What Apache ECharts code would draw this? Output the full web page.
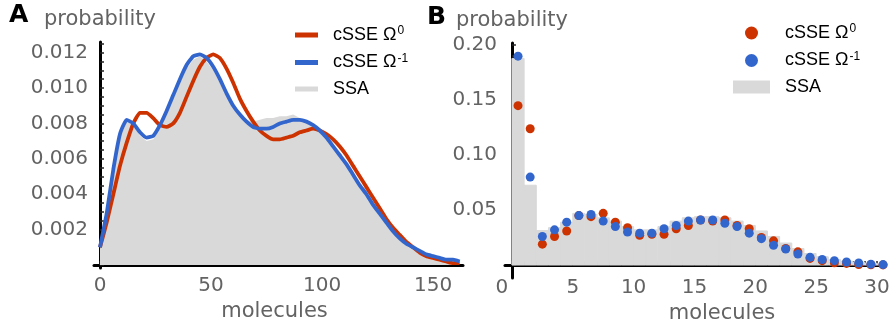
<!DOCTYPE html>
<html>
<head>
<meta charset="utf-8">
<script src="https://cdn.jsdelivr.net/npm/echarts@6/dist/echarts.min.js"></script>
<style>html,body{margin:0;padding:0;background:#fff}#c{width:891px;height:326px}</style>
</head>
<body>
<div id="c"></div>
<script>
// ---------- Panel A data ----------
const xsA = [0,3,6,9,12,15,18,21,24,27,30,33,36,39,42,45,48,51,54,57,60,63,66,69,72,75,78,81,84,87,90,93,96,99,102,105,108,111,114,117,120,123,126,129,132,135,138,141,144,147,150,153,156,159,162];
const redA = [0.0010,0.0024,0.0040,0.0056,0.0069,0.0080,0.0086,0.0086,0.0083,0.0079,0.0078,0.0080,0.0086,0.0095,0.0104,0.0112,0.0117,0.0119,0.0117,0.0111,0.0103,0.0094,0.0087,0.0081,0.0076,0.0073,0.0071,0.0071,0.0072,0.0073,0.0075,0.0076,0.0077,0.0076,0.0074,0.0071,0.0067,0.0062,0.0056,0.0050,0.0044,0.0038,0.0032,0.0026,0.0021,0.0017,0.0013,0.0010,0.0007,0.0005,0.0004,0.0003,0.0002,0.0001,0.0001];
const blueA = [0.0010,0.0029,0.0054,0.0074,0.0082,0.0080,0.0075,0.0072,0.0073,0.0079,0.0087,0.0096,0.0105,0.0113,0.0118,0.0119,0.0117,0.0112,0.0105,0.0097,0.0090,0.0085,0.0081,0.0078,0.0077,0.0077,0.0078,0.0080,0.0081,0.0082,0.0082,0.0081,0.0079,0.0076,0.0072,0.0067,0.0062,0.0057,0.0051,0.0045,0.0040,0.0034,0.0029,0.0024,0.0019,0.0015,0.0012,0.0010,0.0008,0.0006,0.0005,0.0004,0.0003,0.0003,0.0002];
const ssaA = [0.0009,0.0030,0.0054,0.0072,0.0081,0.0079,0.0073,0.0070,0.0071,0.0077,0.0085,0.0094,0.0103,0.0111,0.0116,0.0118,0.0115,0.0110,0.0103,0.0096,0.0090,0.0086,0.0082,0.0081,0.0082,0.0083,0.0083,0.0084,0.0084,0.0085,0.0083,0.0081,0.0078,0.0075,0.0071,0.0066,0.0061,0.0056,0.0050,0.0044,0.0039,0.0033,0.0028,0.0023,0.0019,0.0015,0.0012,0.0009,0.0007,0.0005,0.0004,0.0003,0.0002,0.0002,0.0001];
const xTickLabelsA = [0,50,100,150];
const xTicksA = [0,10,20,30,40,50,60,70,80,90,100,110,120,130,140,150,160];
const yTickLabelsA = [0.002,0.004,0.006,0.008,0.010,0.012];
const yTicksA = [0,0.0005,0.001,0.0015,0.002,0.0025,0.003,0.0035,0.004,0.0045,0.005,0.0055,0.006,0.0065,0.007,0.0075,0.008,0.0085,0.009,0.0095,0.010,0.0105,0.011,0.0115,0.012,0.0125];

// ---------- Panel B data ----------
const xsB = [0.5,1.5,2.5,3.5,4.5,5.5,6.5,7.5,8.5,9.5,10.5,11.5,12.5,13.5,14.5,15.5,16.5,17.5,18.5,19.5,20.5,21.5,22.5,23.5,24.5,25.5,26.5,27.5,28.5,29.5,30.5];
const redB = [0.145,0.124,0.019,0.026,0.031,0.045,0.044,0.047,0.039,0.034,0.027,0.028,0.028,0.033,0.036,0.041,0.040,0.041,0.036,0.033,0.025,0.022,0.015,0.012,0.006,0.004,0.002,0.0015,0.0005,0.0003,0.0001];
const blueB = [0.190,0.080,0.026,0.032,0.039,0.045,0.046,0.040,0.035,0.030,0.029,0.029,0.033,0.036,0.040,0.041,0.041,0.038,0.035,0.029,0.024,0.018,0.0145,0.010,0.007,0.005,0.004,0.0028,0.0018,0.0008,0.0004];
const binEdgesB = [0,1,2,3,4,5,6,7,8,9,10,11,12,13,14,15,16,17,18,19,20,21,22,23,24,25,26,27,28,29,30,31];
const ssaB = [0.188,0.0726,0.0314,0.034,0.039,0.047,0.046,0.043,0.040,0.035,0.032,0.032,0.035,0.040,0.043,0.044,0.044,0.043,0.040,0.036,0.031,0.026,0.020,0.015,0.0105,0.0075,0.005,0.0035,0.0025,0.0015,0.001];
const xTickLabelsB = [0,5,10,15,20,25,30];
const xTicksB = [0,1,2,3,4,5,6,7,8,9,10,11,12,13,14,15,16,17,18,19,20,21,22,23,24,25,26,27,28,29,30];
const yTickLabelsB = [0.05,0.10,0.15,0.20];
const yTicksB = [0,0.01,0.02,0.03,0.04,0.05,0.06,0.07,0.08,0.09,0.10,0.11,0.12,0.13,0.14,0.15,0.16,0.17,0.18,0.19,0.20];

const legendNames = {
  redA: '{a|cSSE Ω}{s|0}', blueA: '{a|cSSE Ω}{s|-1}', ssaA: '{a|SSA}',
  redB: '{a|cSSE Ω}{s|0}', blueB: '{a|cSSE Ω}{s|-1}', ssaB: '{a|SSA}'
};

const RED = '#cc3300', BLUE = '#3366cc', GRAY = '#d9d9d9';
const FONT = 'DejaVu Sans';
const LABEL_COLOR = '#636363';

function axisLine() { return { onZero: true, lineStyle: { color: '#000', width: 3 } }; }
function tick(vals) { return { inside: true, length: 4, customValues: vals, lineStyle: { color: '#222', width: 1.5 } }; }

function legendRich(pad) {
  return {
    a: { fontFamily: 'Liberation Sans', fontSize: 18, color: '#000', lineHeight: 20, padding: [0, 0, 0, pad] },
    s: { fontFamily: 'Liberation Sans', fontSize: 12, color: '#000', lineHeight: 20, verticalAlign: 'top', padding: [0, 0, 0, 1] }
  };
}

const chart = echarts.init(document.getElementById('c'), null, { renderer: 'canvas' });
chart.setOption({
  animation: false,
  title: [
    { text: 'A', left: 9, top: 3, padding: 0, textStyle: { fontFamily: FONT, fontWeight: 'bold', fontSize: 25, color: '#000' } },
    { text: 'B', left: 427, top: 5, padding: 0, textStyle: { fontFamily: FONT, fontWeight: 'bold', fontSize: 25, color: '#000' } }
  ],
  legend: [
    {
      orient: 'vertical', left: 295, top: 25, padding: 0, itemGap: 8.5,
      itemWidth: 23, itemHeight: 5,
      data: [{ name: 'redA', icon: 'rect' }, { name: 'blueA', icon: 'rect' }, { name: 'ssaA', icon: 'rect' }],
      formatter: n => legendNames[n],
      textStyle: { rich: legendRich(10) }
    },
    {
      orient: 'vertical', left: 733, top: 23, padding: 0, itemGap: 8.5,
      itemWidth: 37, itemHeight: 13,
      data: [{ name: 'redB', icon: 'circle' }, { name: 'blueB', icon: 'circle' }, { name: 'ssaB', icon: 'rect' }],
      formatter: n => legendNames[n],
      textStyle: { rich: legendRich(10) }
    }
  ],
  grid: [
    { left: 94, right: 428, top: 42, bottom: 58, outerBoundsMode: 'none', containLabel: false },
    { left: 505, right: 6, top: 43, bottom: 48, outerBoundsMode: 'none', containLabel: false }
  ],
  xAxis: [
    {
      gridIndex: 0, type: 'value', min: -2.7, max: 163.5,
      splitLine: { show: false }, axisLine: axisLine(), axisTick: tick(xTicksA),
      axisLabel: { customValues: xTickLabelsA, color: LABEL_COLOR, fontFamily: FONT, fontSize: 20, margin: 8 },
      name: 'molecules', nameLocation: 'middle', nameGap: 33,
      nameTextStyle: { color: LABEL_COLOR, fontFamily: FONT, fontSize: 21, padding: [0, 8, 0, 0] }
    },
    {
      gridIndex: 1, type: 'value', min: -0.57, max: 30.66,
      splitLine: { show: false }, axisLine: axisLine(), axisTick: tick(xTicksB),
      axisLabel: {
        customValues: xTickLabelsB, color: LABEL_COLOR, fontFamily: FONT, fontSize: 20, margin: 0,
        formatter: v => (v === 0 ? '{z|0}' : String(v)),
        rich: { z: { color: LABEL_COLOR, fontFamily: FONT, fontSize: 20, padding: [0, 20, 0, 0] } }
      },
      name: 'molecules', nameLocation: 'middle', nameGap: 24,
      nameTextStyle: { color: LABEL_COLOR, fontFamily: FONT, fontSize: 21, padding: [0, 0, 0, 54] }
    }
  ],
  yAxis: [
    {
      gridIndex: 0, type: 'value', min: -0.00017, max: 0.0126,
      splitLine: { show: false }, axisLine: axisLine(), axisTick: tick(yTicksA),
      axisLabel: { customValues: yTickLabelsA, formatter: v => v.toFixed(3), color: LABEL_COLOR, fontFamily: FONT, fontSize: 20, margin: 6 },
      name: 'probability', nameLocation: 'end', nameGap: 12,
      nameTextStyle: { color: LABEL_COLOR, fontFamily: FONT, fontSize: 21 }
    },
    {
      gridIndex: 1, type: 'value', min: -0.0118, max: 0.202,
      splitLine: { show: false }, axisLine: axisLine(), axisTick: tick(yTicksB),
      axisLabel: { customValues: yTickLabelsB, formatter: v => v.toFixed(2), color: LABEL_COLOR, fontFamily: FONT, fontSize: 20, margin: 8 },
      name: 'probability', nameLocation: 'end', nameGap: 12,
      nameTextStyle: { color: LABEL_COLOR, fontFamily: FONT, fontSize: 21 }
    }
  ],
  series: [
    {
      name: 'ssaA', type: 'line', xAxisIndex: 0, yAxisIndex: 0, showSymbol: false, z: 1,
      data: xsA.map((x, i) => [x, ssaA[i]]),
      itemStyle: { color: GRAY }, lineStyle: { width: 0, color: GRAY },
      areaStyle: { color: GRAY, opacity: 1 }
    },
    {
      name: 'redA', type: 'line', xAxisIndex: 0, yAxisIndex: 0, showSymbol: false, smooth: 0.15, z: 3,
      data: xsA.map((x, i) => [x, redA[i]]),
      itemStyle: { color: RED }, lineStyle: { width: 3.8, color: RED }
    },
    {
      name: 'blueA', type: 'line', xAxisIndex: 0, yAxisIndex: 0, showSymbol: false, smooth: 0.15, z: 4,
      data: xsA.map((x, i) => [x, blueA[i]]),
      itemStyle: { color: BLUE }, lineStyle: { width: 3.8, color: BLUE }
    },
    {
      name: 'ssaB', type: 'custom', xAxisIndex: 1, yAxisIndex: 1, clip: true, z: 1,
      itemStyle: { color: GRAY },
      data: ssaB.map((v, i) => [binEdgesB[i], binEdgesB[i + 1], v]),
      encode: { x: [0, 1], y: 2 },
      renderItem: (params, api) => {
        const p0 = api.coord([api.value(0), api.value(2)]);
        const p1 = api.coord([api.value(1), 0]);
        return { type: 'rect', shape: { x: p0[0], y: p0[1], width: p1[0] - p0[0], height: p1[1] - p0[1] }, style: { fill: GRAY, stroke: GRAY, lineWidth: 1 } };
      }
    },
    {
      name: 'redB', type: 'scatter', xAxisIndex: 1, yAxisIndex: 1, symbolSize: 9, z: 3,
      data: xsB.map((x, i) => [x, redB[i]]), itemStyle: { color: RED, opacity: 1 }
    },
    {
      name: 'blueB', type: 'scatter', xAxisIndex: 1, yAxisIndex: 1, symbolSize: 9, z: 4,
      data: xsB.map((x, i) => [x, blueB[i]]), itemStyle: { color: BLUE, opacity: 1 }
    }
  ]
});
</script>
</body>
</html>
